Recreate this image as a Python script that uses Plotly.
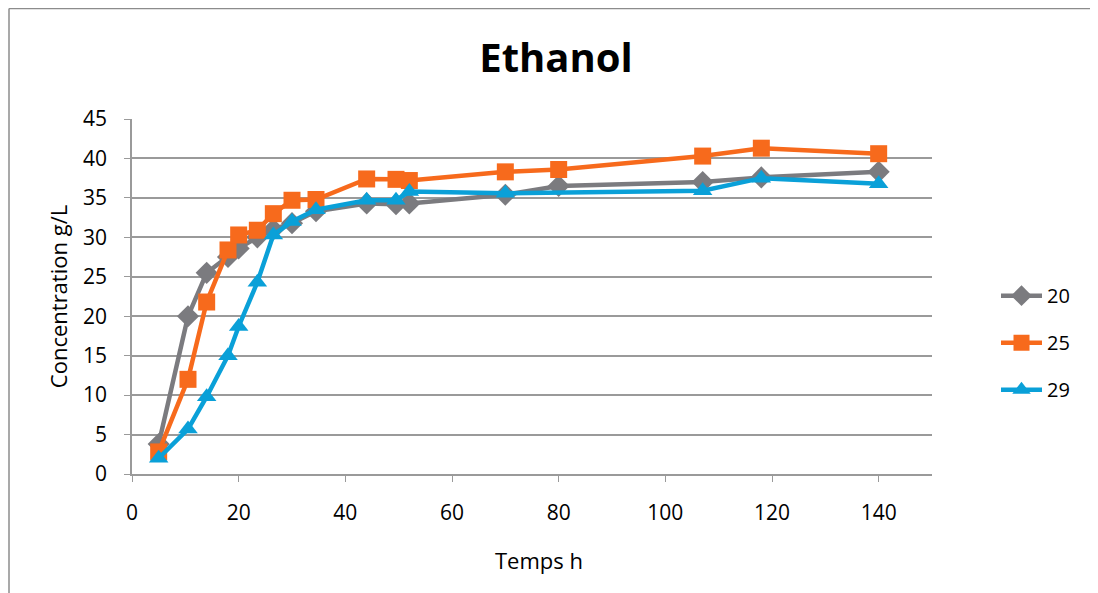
import plotly.graph_objects as go

# Ethanol concentration over time for three temperatures (20, 25, 29)
temps_x = [5, 10.5, 14, 18, 20, 23.5, 26.5, 30, 34.5, 44, 49.5, 52, 70, 80, 107, 118, 140]
temps_x_29 = [5, 10.5, 14, 18, 20, 23.5, 26.5, 30, 34.5, 44, 49.5, 52, 70, 107, 118, 140]

ethanol_20 = [3.8, 20.0, 25.5, 27.5, 28.6, 30.0, 31.0, 31.8, 33.3, 34.3, 34.2, 34.3, 35.4, 36.5, 37.0, 37.6, 38.3]
ethanol_25 = [2.8, 12.0, 21.8, 28.4, 30.3, 30.9, 33.0, 34.7, 34.8, 37.4, 37.35, 37.2, 38.3, 38.6, 40.3, 41.3, 40.6]
ethanol_29 = [2.0, 5.7, 9.8, 15.0, 18.7, 24.3, 30.3, 32.0, 33.5, 34.7, 34.7, 35.8, 35.6, 35.9, 37.5, 36.8]

series_names = ["20", "25", "29"]
colors = ["#7B7B7F", "#F76A1C", "#0AA0D8"]

font_family = "'Open Sans', sans-serif"

fig = go.Figure()

fig.add_trace(go.Scatter(
    x=temps_x, y=ethanol_20, name=series_names[0], legendgroup="a",
    mode="lines+markers",
    line=dict(color=colors[0], width=4.5),
    marker=dict(symbol="diamond", size=17, color=colors[0]),
))
fig.add_trace(go.Scatter(
    x=temps_x, y=ethanol_25, name=series_names[1], legendgroup="b",
    mode="lines+markers",
    line=dict(color=colors[1], width=4.5),
    marker=dict(symbol="square", size=17, color=colors[1]),
))
fig.add_trace(go.Scatter(
    x=temps_x_29, y=ethanol_29, name=series_names[2], legendgroup="c",
    mode="lines+markers",
    line=dict(color=colors[2], width=4.5),
    marker=dict(symbol="triangle-up", size=17, color=colors[2]),
))

axis_gray = "#9A9A9A"

# page body has an 8px margin, so the figure is a bit smaller than the window
fig.update_layout(
    width=1090,
    height=585,
    margin=dict(l=124, r=166, t=111, b=119),
    paper_bgcolor="white",
    plot_bgcolor="white",
    font=dict(family=font_family, size=21, color="#000000"),
    title=dict(
        text="<b>Ethanol</b>",
        x=0.53, xref="paper", xanchor="center",
        y=0.9145, yref="container", yanchor="middle",
        font=dict(size=40, color="#000000"),
    ),
    legend=dict(
        x=1.08, xanchor="left",
        y=0.37, yanchor="middle",
        font=dict(size=20, color="#000000"),
        tracegroupgap=18,
        itemwidth=41,
        bgcolor="rgba(0,0,0,0)",
    ),
    shapes=[
        dict(type="line", xref="paper", yref="paper",
             x0=-0.15375, x1=-0.15375, y0=-0.5, y1=1.3113,
             line=dict(color="#8C8C8C", width=1.5)),
        dict(type="line", xref="paper", yref="paper",
             x0=-0.15375, x1=1.3, y0=1.3113, y1=1.3113,
             line=dict(color="#8C8C8C", width=1.5)),
    ],
    # x axis title sits a little right of the plot centre in the original
    annotations=[
        dict(text="Temps h", xref="paper", yref="paper",
             x=0.509, y=-0.242, xanchor="center", yanchor="middle",
             showarrow=False, font=dict(size=22, color="#000000")),
    ],
)

fig.update_xaxes(
    range=[0, 150],
    tickvals=[0, 20, 40, 60, 80, 100, 120, 140],
    showgrid=False,
    zeroline=False,
    showline=True, linecolor=axis_gray, linewidth=1.5,
    ticks="outside", ticklen=6, tickcolor=axis_gray, tickwidth=1.2,
    ticklabelstandoff=13,
    tickfont=dict(size=21),
)
fig.update_yaxes(
    range=[0, 45],
    dtick=5,
    showgrid=True, gridcolor=axis_gray, gridwidth=1.5,
    zeroline=False,
    showline=True, linecolor=axis_gray, linewidth=1.5,
    ticks="outside", ticklen=6, tickcolor=axis_gray, tickwidth=1.2,
    ticklabelstandoff=13,
    tickfont=dict(size=21),
    title=dict(text="Concentration g/L", font=dict(size=22), standoff=9),
)

fig.write_html("out.html")
